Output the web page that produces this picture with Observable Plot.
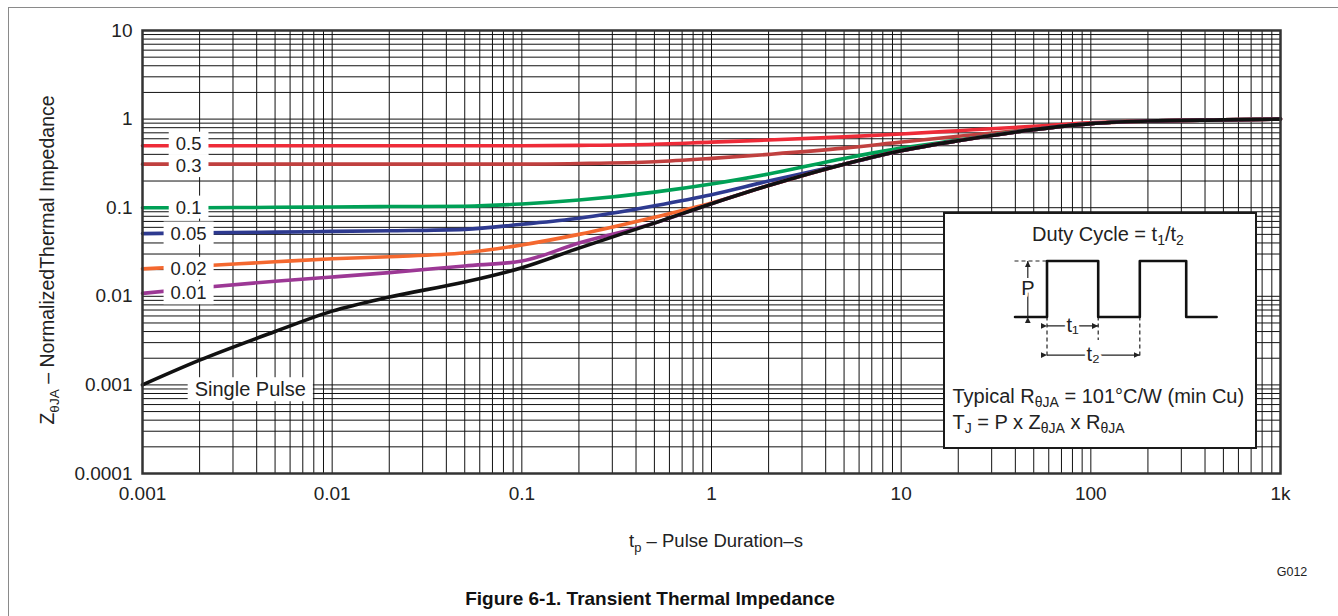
<!DOCTYPE html>
<html><head><meta charset="utf-8">
<script src="https://cdn.jsdelivr.net/npm/d3@7"></script>
<script src="https://cdn.jsdelivr.net/npm/@observablehq/plot@0.6"></script>
<style>
body{margin:0;background:#fff;font-family:'Liberation Sans',Arial,Helvetica,sans-serif;color:#222}
#wrap{position:relative;width:1338px;height:616px;overflow:hidden;background:#fff}
.abs{position:absolute;white-space:nowrap}
sub{font-size:70%;vertical-align:baseline;position:relative;top:0.35em;line-height:0}
#inset{left:943px;top:212px;width:314px;height:237px;box-sizing:border-box;border:2.5px solid #1a1a1a;background:#fff}
#inset .txt{font-size:20px;line-height:24px}
#border{left:8px;top:7px;width:2000px;height:2000px;border-left:1.6px solid #8a8a8a;border-top:1.6px solid #8a8a8a;pointer-events:none}
</style></head><body>
<div id="wrap">
  <div id="chart" class="abs" style="left:0;top:0"></div>
  <div id="inset" class="abs">
    <div id="wave" class="abs" style="left:0;top:0"></div>
    <div class="abs txt" style="left:0;top:7.5px;width:100%;box-sizing:border-box;padding-left:16px;text-align:center">Duty Cycle = t<sub>1</sub>/t<sub>2</sub></div>
    <div class="abs txt" style="left:7.5px;top:169.5px">Typical R<sub>θJA</sub> = 101°C/W (min Cu)</div>
    <div class="abs txt" style="left:7.5px;top:195.5px">T<sub>J</sub> = P x Z<sub>θJA</sub> x R<sub>θJA</sub></div>
  </div>
  <div class="abs" style="left:516px;top:529px;width:400px;text-align:center;font-size:18.5px;line-height:24px">t<sub>p</sub> – Pulse Duration–s</div>
  <div class="abs" style="left:-153px;top:248px;width:400px;text-align:center;font-size:19.5px;line-height:24px;transform:rotate(-90deg)">Z<sub>θJA</sub> – NormalizedThermal Impedance</div>
  <div class="abs" style="left:1242px;top:564px;width:100px;text-align:center;font-size:12.5px;line-height:16px">G012</div>
  <div class="abs" style="left:350px;top:587px;width:600px;text-align:center;font-size:19px;font-weight:bold;line-height:24px;color:#111">Figure 6-1. Transient Thermal Impedance</div>
  <div id="border" class="abs"></div>
</div>
<script>
// ---------- data ----------
const pulseT = [0.001,0.002,0.005,0.01,0.02,0.05,0.1,0.2,0.5,1,2,5,10,20,50,100,200,500,1000];
const z05     = [0.5,0.5,0.5,0.5,0.5,0.5,0.5,0.505,0.52,0.55,0.58,0.63,0.68,0.74,0.83,0.91,0.95,0.98,1.0];
const z03     = [0.31,0.31,0.31,0.31,0.31,0.31,0.31,0.315,0.33,0.36,0.40,0.47,0.55,0.64,0.77,0.89,0.95,0.98,1.0];
const z01     = [0.1,0.1,0.101,0.102,0.103,0.104,0.11,0.122,0.15,0.185,0.24,0.36,0.47,0.58,0.76,0.89,0.95,0.98,1.0];
const z005    = [0.051,0.052,0.053,0.054,0.055,0.057,0.065,0.076,0.105,0.14,0.2,0.31,0.44,0.57,0.76,0.89,0.95,0.98,1.0];
const z002    = [0.0204,0.022,0.0245,0.0265,0.028,0.031,0.038,0.05,0.078,0.113,0.178,0.31,0.44,0.57,0.76,0.89,0.95,0.98,1.0];
const z001    = [0.0108,0.0125,0.0148,0.0165,0.0185,0.022,0.025,0.04,0.067,0.111,0.178,0.31,0.44,0.57,0.76,0.89,0.95,0.98,1.0];
const zSingle = [0.001,0.0019,0.004,0.0068,0.0098,0.0145,0.021,0.035,0.067,0.111,0.178,0.31,0.44,0.57,0.76,0.89,0.95,0.98,1.0];

const seriesNames  = ["0.5","0.3","0.1","0.05","0.02","0.01","Single Pulse"];
const seriesValues = [z05, z03, z01, z005, z002, z001, zSingle];
const seriesColors = ["#ee2b38","#c0403f","#00a056","#2e3a90","#f4682f","#9c3895","#111111"];
const labelNudge   = [-2, 2, 0, 0, 0, 0];   // px, keeps the 0.5 / 0.3 labels apart

const xTickValues = [0.001,0.01,0.1,1,10,100,1000];
const xTickLabels = ["0.001","0.01","0.1","1","10","100","1k"];
const yTickValues = [0.0001,0.001,0.01,0.1,1,10];
const yTickLabels = ["0.0001","0.001","0.01","0.1","1","10"];
const gridSteps = [1,2,3,4,5,6,7,8,9];

// label anchor positions (data coords)
const dutyLabelT = 0.00175;
const singleLabelT = 0.0037, singleLabelZ = 0.00088;

// inset waveform (arbitrary time units, P normalised)
const waveT = [0,1,1,2.6,2.6,3.9,3.9,5.35,5.35,6.3];
const waveP = [0,0,1,1,0,0,1,1,0,0];
const dashT = [1,2.6,3.9];
const dashLow = [-0.72,-0.42,-0.72];

// ---------- build ----------
const xGrid = [], yGrid = [];
xTickValues.slice(0,-1).forEach(d => gridSteps.forEach(s => xGrid.push(d*s)));
xGrid.push(xTickValues[xTickValues.length-1]);
yTickValues.slice(0,-1).forEach(d => gridSteps.forEach(s => yGrid.push(d*s)));
yGrid.push(yTickValues[yTickValues.length-1]);

const xFmt = new Map(xTickValues.map((v,i)=>[v,xTickLabels[i]]));
const yFmt = new Map(yTickValues.map((v,i)=>[v,yTickLabels[i]]));

const lineMarks = seriesNames.map((name,k) =>
  Plot.line(pulseT.map((t,i)=>({t, z: seriesValues[k][i]})),
    {x:"t", y:"z", stroke: seriesColors[k], strokeWidth: 3.6, curve: "monotone-x"}));

const labelMarks = seriesNames.slice(0,6).map((name,k) =>
  Plot.text([{t: dutyLabelT, z: seriesValues[k][0], text: name}],
    {x: "t", y: "z", text: "text", dy: labelNudge[k], fontSize: 18.5, fill: "#222"}));

const chart = Plot.plot({
  width: 1338, height: 510,
  marginLeft: 142, marginRight: 58, marginTop: 30, marginBottom: 37,
  style: {fontFamily: "'Liberation Sans', Arial, sans-serif", fontSize: "19px", background: "transparent", color: "#222", overflow: "visible"},
  x: {type: "log", domain: [0.001, 1000]},
  y: {type: "log", domain: [0.0001, 10]},
  marks: [
    Plot.ruleX(xGrid, {stroke: "#111", strokeWidth: 1}),
    Plot.ruleY(yGrid, {stroke: "#111", strokeWidth: 1}),
    ...lineMarks,
    ...labelMarks,
    Plot.text([{t: singleLabelT, z: singleLabelZ, text: "Single Pulse"}], {x: "t", y: "z", text: "text", fontSize: 20, fill: "#222"}),
    Plot.frame({stroke: "#333", strokeWidth: 2.5}),
    Plot.axisX(xTickValues, {tickSize: 0, tickPadding: 13, tickFormat: d => xFmt.get(d), fontSize: 19, label: null, fill: "#222"}),
    Plot.axisY(yTickValues, {tickSize: 0, tickPadding: 10, tickFormat: d => yFmt.get(d), fontSize: 19, label: null, fill: "#222"})
  ]
});
document.getElementById("chart").appendChild(chart);

// white boxes behind the curve labels
chart.querySelectorAll('g[aria-label="text"] text').forEach(t => {
  const b = t.getBBox();
  const r = document.createElementNS("http://www.w3.org/2000/svg","rect");
  const px = 7, py = 1;
  r.setAttribute("x", b.x - px); r.setAttribute("y", b.y - py);
  r.setAttribute("width", b.width + 2*px); r.setAttribute("height", b.height + 2*py);
  r.setAttribute("fill", "#fff");
  if (t.getAttribute("transform")) r.setAttribute("transform", t.getAttribute("transform"));
  t.parentNode.insertBefore(r, t);
});

// inset waveform
const wave = Plot.plot({
  width: 309, height: 232, margin: 0,
  x: {domain: [-2.172, 7.484], axis: null},
  y: {domain: [-2.3125, 1.830], axis: null},
  style: {background: "transparent", overflow: "visible", fontFamily: "'Liberation Sans', Arial, sans-serif"},
  marks: [
    Plot.ruleY([1], {x1: 0, x2: 1, stroke: "#222", strokeWidth: 1.2, strokeDasharray: "4,3"}),
    Plot.ruleX(dashT.map((t,i)=>({t, lo: dashLow[i]})), {x: "t", y1: 0, y2: "lo", stroke: "#222", strokeWidth: 1.2, strokeDasharray: "4,3"}),
    Plot.line(waveT.map((t,i)=>({t, p: waveP[i]})), {x: "t", y: "p", stroke: "#111", strokeWidth: 2.6}),
    Plot.link([{x1: 0.4, y1: 0, x2: 0.4, y2: 1}, {x1: 1, y1: -0.16, x2: 2.6, y2: -0.16}, {x1: 1, y1: -0.68, x2: 3.9, y2: -0.68}],
      {x1: "x1", y1: "y1", x2: "x2", y2: "y2", stroke: "#222", strokeWidth: 1.2, markerStart: "arrow", markerEnd: "arrow"}),
    Plot.text([{t: 0.4, p: 0.5, s: "P"}, {t: 1.8, p: -0.16, s: "t₁"}, {t: 2.44, p: -0.68, s: "t₂"}],
      {x: "t", y: "p", text: "s", fontSize: 20, fill: "#222", stroke: "#fff", strokeWidth: 6, paintOrder: "stroke"})
  ]
});
document.getElementById("wave").appendChild(wave);
wave.querySelectorAll("marker").forEach(m => {
  m.setAttribute("markerWidth", 10);
  m.setAttribute("markerHeight", 10);
});
wave.querySelectorAll("marker path").forEach(p => {
  p.setAttribute("d", "M-5.5,-2.6L0,0L-5.5,2.6Z");
  p.setAttribute("fill", "#222");
  p.setAttribute("stroke", "none");
});
</script>
</body></html>
